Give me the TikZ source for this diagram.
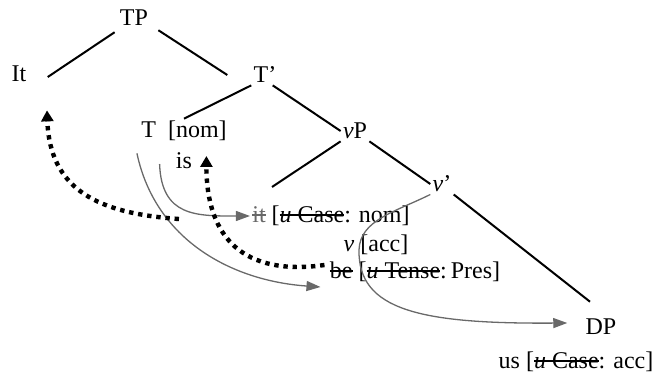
\documentclass[tikz,border=0pt]{standalone}
\usepackage{fontspec}
\setmainfont{Liberation Serif}
\usepackage{xcolor}
\definecolor{movegray}{RGB}{105,105,105}
\usetikzlibrary{arrows.meta,positioning}
\newcommand{\strk}[1]{\setbox0\hbox{#1}\rlap{\rule[0.3em]{\wd0}{0.6pt}}\box0\relax}

\begin{document}
\begin{tikzpicture}[x=0.5pt, y=-0.5pt]
    \tikzstyle{cat} = [inner sep=1pt, font=\fontsize{12}{14}\selectfont]
    \tikzstyle{branch} = [line width=1pt, black]
    \tikzstyle{move} = [-{Triangle[length=7pt,width=5pt]}, line width=0.65pt, movegray]
    \tikzstyle{agree} = [-{Triangle[length=5.5pt,width=6pt]}, line width=2.2pt,
                         dash pattern=on 2.2pt off 2.4pt]

    \useasboundingbox (0,0) rectangle (659,373);

    % Tree
    \node[cat] (tp) at (134,18) {TP};
    \node[cat] (it) at (19,74) {It};
    \node[cat] (tbar) at (265,75) {T’};
    \node[cat] (t) at (184,131) {T~~[nom]};
    \node[cat] (is) at (184,161) {is};
    \node[cat] (vp) at (355,131) {\textit{v}P};
    \node[cat] (vbar) at (442,184) {\textit{v}’};
    \coordinate (spec) at (272,187);

    % Features
    \node[cat] (itlow) at (331,216) {{\color{movegray}\strk{it}} [\strk{\textit{u} Case}: nom]};
    \node[cat] (vacc) at (376,245) {\textit{v} [acc]};
    \node[cat] (be) at (415,272) {\strk{be} [\strk{\textit{u} Tense}:\,Pres]};
    \node[cat] (dp) at (601,327) {DP};
    \node[cat] (us) at (576,362) {us [\strk{\textit{u} Case}: acc]};

    % Branches
    \draw[branch] ([shift={(-3,4)}]tp.south west) -- ([shift={(19,3)}]it.east);
    \draw[branch] ([shift={(8,2)}]tp.south east) -- ([shift={(-24,0)}]tbar.west);
    \draw[branch] (tbar.south west) -- (t.north);
    \draw[branch] ([shift={(-6,0)}]tbar.south east) -- (vp.west);
    \draw[branch] (vp.south west) -- (spec);
    \draw[branch] (vp.south east) -- (vbar.west);
    \draw[branch] (vbar.south east) -- ([shift={(-11,-15)}]dp.north);

    % Movement
    \draw[move] ([shift={(-14,3)}]is.west) to[out=-88, in=180, looseness=1.3] (itlow.west);
    \draw[move] ([shift={(-2,10)}]t.south west) to[out=-78, in=176] ([shift={(-7,15)}]be.west);
    \draw[move] (vbar.south west) .. controls (395,212) and (360,220) .. (359,250)
        .. controls (358,310) and (420,324) .. ([shift={(-16,-4)}]dp.west);

    % Agreement
    \draw[agree] ([shift={(-71,3)}]itlow.west) to[out=176, in=-88, looseness=1.2] ([shift={(28,26)}]it.south);
    \draw[agree] ([shift={(-3,-7)}]be.west) to[out=188, in=-90, looseness=1.3] ([shift={(12,-5)}]is.east);
\end{tikzpicture}
\end{document}
